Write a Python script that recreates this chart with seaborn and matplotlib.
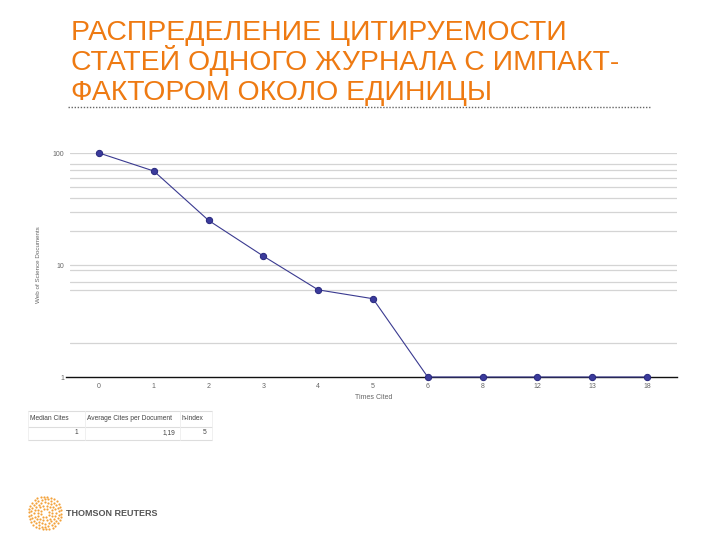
import numpy as np
import pandas as pd
import matplotlib
matplotlib.use("Agg")
import matplotlib.pyplot as plt
from matplotlib.lines import Line2D
import seaborn as sns

# ---- data ----
times_cited = ["0", "1", "2", "3", "4", "5", "6", "8", "12", "13", "18"]
documents = [100, 69, 25, 12, 6, 5, 1, 1, 1, 1, 1]
grid_values = [2, 6, 7, 9, 10, 20, 30, 40, 50, 60, 70, 80, 100]
y_ticks = [1, 10, 100]
y_tick_labels = ["1", "10", "100"]
title_lines = ["РАСПРЕДЕЛЕНИЕ ЦИТИРУЕМОСТИ",
               "СТАТЕЙ ОДНОГО ЖУРНАЛА С ИМПАКТ-",
               "ФАКТОРОМ ОКОЛО ЕДИНИЦЫ"]
table_header = ["Median Cites", "Average Cites per Document", "h-index"]
table_values = ["1", "1,19", "5"]

sns.set_theme(style="white")
plt.rcParams['font.family'] = ['Liberation Sans', 'DejaVu Sans']

fig = plt.figure(figsize=(7.2, 5.4), dpi=100)
W, H = 720, 540

def fx(px):
    return px / W

def fy(py):
    return 1 - py / H

# ---- title ----
orange = "#EE7A12"
for i, line in enumerate(title_lines):
    fig.text(fx(71), fy([40, 70.5, 100][i]), line, color=orange, fontsize=20.4,
             va="baseline", ha="left")
fig.add_artist(Line2D([fx(68), fx(651)], [fy(107), fy(107)], color="#666666",
                      lw=1.0, linestyle=(0, (1, 1.2))))

# ---- chart ----
ax = fig.add_axes([fx(70), fy(377), fx(677) - fx(70), fy(153) - fy(377)])
df = pd.DataFrame({"pos": np.arange(len(times_cited)), "docs": documents})
ax.set_yscale("log")
for g in grid_values:
    ax.axhline(g, color="#d4d4d4", lw=0.9, zorder=0)
sns.lineplot(data=df, x="pos", y="docs", ax=ax, color="#3a3a90", lw=0.8,
             marker="o", markersize=4.5, markeredgecolor="#2b2b80",
             markerfacecolor="#3b3b9c", clip_on=False, zorder=3)
ax.set_ylim(1, 100)
ax.set_xlim(-0.53, 10.55)
ax.set_xticks(df["pos"])
ax.set_xticklabels(times_cited)
ax.set_yticks(y_ticks)
ax.set_yticklabels(y_tick_labels)
ax.minorticks_off()
ax.tick_params(axis="both", labelsize=5, colors="#666666", length=0, pad=4)
for s in ["top", "right", "left"]:
    ax.spines[s].set_visible(False)
ax.spines["bottom"].set_color("#111111")
ax.spines["bottom"].set_linewidth(1.0)
ax.spines["bottom"].set_bounds(-0.6, 10.55)
ax.set_xlabel("Times Cited", fontsize=5, color="#666666", labelpad=3)
ax.set_ylabel("Web of Science Documents", fontsize=4.5, color="#666666",
              labelpad=14)
ax.yaxis.set_label_coords(-0.048, 0.5)

# ---- small table ----
fig.add_artist(Line2D([fx(28), fx(212)], [fy(411), fy(411)], color="#dddddd", lw=0.8))
fig.add_artist(Line2D([fx(28), fx(212)], [fy(427), fy(427)], color="#dddddd", lw=0.8))
fig.add_artist(Line2D([fx(28), fx(212)], [fy(440), fy(440)], color="#dddddd", lw=0.8))
for x0 in [fx(28), fx(85), fx(180), fx(212)]:
    fig.add_artist(Line2D([x0, x0], [fy(411), fy(440)], color="#eeeeee", lw=0.6))
hx = [fx(30), fx(87), fx(181)]
for x0, t in zip(hx, table_header):
    fig.text(x0, fy(419), t, fontsize=4.8, color="#444444", va="center", ha="left")
vx = [fx(78), fx(175), fx(206)]
for x0, t in zip(vx, table_values):
    fig.text(x0, fy(433), t, fontsize=4.8, color="#444444", va="center", ha="right")

# ---- logo ----
lax = fig.add_axes([fx(27), fy(531), fx(36), fy(495) - fy(531)])
lax.set_xlim(-1.1, 1.1)
lax.set_ylim(-1.1, 1.1)
lax.set_aspect("equal")
lax.axis("off")
for r, n in [(0.25, 8), (0.45, 14), (0.65, 20), (0.85, 26), (1.0, 30)]:
    th = np.linspace(0, 2 * np.pi, n, endpoint=False) + r
    lax.scatter(r * np.cos(th), r * np.sin(th), s=2.5, color="#F3A23A", lw=0)
fig.text(fx(66), fy(513), "THOMSON REUTERS", fontsize=6.5, fontweight="bold",
         color="#555555", va="center", ha="left")

fig.savefig("out.png", dpi=100)
